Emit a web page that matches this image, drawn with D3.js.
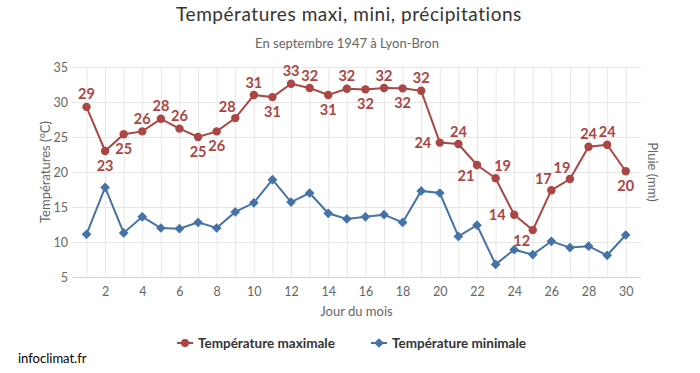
<!DOCTYPE html>
<html>
<head>
<meta charset="utf-8">
<script src="https://cdn.jsdelivr.net/npm/d3@7"></script>
<style>
  body { margin: 0; background: #fff; }
  text { font-family: Lato, "Open Sans", sans-serif; }
</style>
</head>
<body>
<svg id="chart" width="700" height="373"></svg>
<script>
// ---- Data ----
const days = d3.range(1, 31);
const tempMax = [29.3, 23.0, 25.4, 25.8, 27.6, 26.2, 25.0, 25.8, 27.7, 31.0,
                 30.7, 32.6, 32.0, 31.0, 31.9, 31.8, 32.0, 31.95, 31.6, 24.2,
                 24.0, 21.0, 19.1, 13.9, 11.7, 17.4, 19.0, 23.6, 23.9, 20.1];
const tempMin = [11.1, 17.8, 11.3, 13.6, 12.0, 11.9, 12.8, 12.0, 14.3, 15.6,
                 18.9, 15.7, 17.0, 14.1, 13.3, 13.6, 13.9, 12.8, 17.3, 17.0,
                 10.8, 12.4, 6.8, 8.9, 8.2, 10.1, 9.2, 9.4, 8.1, 11.0];
const yTicks = [5, 10, 15, 20, 25, 30, 35];
const xTicks = d3.range(2, 31, 2);
const seriesNames = ["Température maximale", "Température minimale"];

// ---- Layout (label placement per point of the max series) ----
const labelSide = ["N","S","S","N","N","N","S","S","NW","N",
                   "S","N","N","S","N","S","N","S","N","W",
                   "N","SW","NE","W","SW","NW","NW","N","N","S"];
const sideOffset = {
  N: [0, -13], S: [0, 14], W: [-17, 0], NW: [-8, -12],
  SW: [-11, 10], NE: [7, -13]
};

const colMax = "#aa4643", colMin = "#4572a7";
const svg = d3.select("#chart");
const L = 72, R = 641, T = 67, B = 277;

const x = d3.scaleLinear().domain([0.22, 30.82]).range([L, R]);
const y = d3.scaleLinear().domain([5, 35]).range([B, T]);

// Horizontal grid + y labels
const yAxis = svg.append("g").attr("transform", `translate(${L},0)`)
  .call(d3.axisLeft(y).tickValues(yTicks).tickSizeInner(-(R - L)).tickSizeOuter(0).tickPadding(4));
yAxis.select(".domain").remove();
yAxis.selectAll("line").attr("stroke", "#e6e6e6");
yAxis.selectAll("text").attr("fill", "#666").style("font-size", "12.5px").attr("x", -4);

// Vertical grid per day
const xGrid = svg.append("g").attr("transform", `translate(0,${B})`)
  .call(d3.axisBottom(x).tickValues(days).tickSizeInner(-(B - T)).tickSizeOuter(0).tickFormat(""));
xGrid.select(".domain").remove();
xGrid.selectAll("line").attr("stroke", "#e6e6e6");

// X axis labels + line
const xAxis = svg.append("g").attr("transform", `translate(0,${B})`)
  .call(d3.axisBottom(x).tickValues(xTicks).tickSize(0).tickPadding(10));
xAxis.select(".domain").attr("stroke", "#ccd6eb").attr("d", `M${L},0.5H${R}`);
xAxis.selectAll("text").attr("fill", "#666").style("font-size", "12.5px");

// Titles
svg.append("text").attr("x", 349).attr("y", 21).attr("text-anchor", "middle")
  .attr("fill", "#333").style("font-size", "19px").style("letter-spacing", "0.55px")
  .text("Températures maxi, mini, précipitations");
svg.append("text").attr("x", 347).attr("y", 48).attr("text-anchor", "middle")
  .attr("fill", "#666").style("font-size", "13px").text("En septembre 1947 à Lyon-Bron");
svg.append("text").attr("x", (L + R) / 2).attr("y", 316).attr("text-anchor", "middle")
  .attr("fill", "#666").style("font-size", "13px").text("Jour du mois");
svg.append("text").attr("transform", `translate(50,${(T + B) / 2}) rotate(-90)`)
  .attr("text-anchor", "middle").attr("fill", "#666").style("font-size", "13px")
  .text("Températures (°C)");
svg.append("text").attr("transform", `translate(648,${(T + B) / 2}) rotate(90)`)
  .attr("text-anchor", "middle").attr("fill", "#666").style("font-size", "13px")
  .text("Pluie (mm)");

// Lines
const lineGen = d3.line().x((d, i) => x(days[i])).y(d => y(d));
svg.append("path").datum(tempMin).attr("d", lineGen).attr("fill", "none")
  .attr("stroke", colMin).attr("stroke-width", 2);
svg.append("path").datum(tempMax).attr("d", lineGen).attr("fill", "none")
  .attr("stroke", colMax).attr("stroke-width", 2);

// Markers
const diamond = d3.symbol().type(d3.symbolDiamond2).size(60);
svg.append("g").selectAll("path").data(tempMin).join("path")
  .attr("transform", (d, i) => `translate(${x(days[i])},${y(d)})`)
  .attr("d", diamond).attr("fill", colMin);
svg.append("g").selectAll("circle").data(tempMax).join("circle")
  .attr("cx", (d, i) => x(days[i])).attr("cy", d => y(d)).attr("r", 4.2).attr("fill", colMax);

// Data labels
svg.append("g").selectAll("text").data(tempMax).join("text")
  .attr("x", (d, i) => x(days[i]) + sideOffset[labelSide[i]][0])
  .attr("y", (d, i) => y(d) + sideOffset[labelSide[i]][1])
  .attr("text-anchor", "middle").attr("dominant-baseline", "central")
  .attr("fill", colMax).style("font-size", "14.5px").style("font-weight", "bold")
  .text(d => Math.round(d));

// Legend
const legend = [
  { name: seriesNames[0], color: colMax, x0: 177, sym: "circle" },
  { name: seriesNames[1], color: colMin, x0: 371, sym: "diamond" }
];
legend.forEach(it => {
  const g = svg.append("g").attr("transform", `translate(${it.x0},343)`);
  g.append("line").attr("x1", 0).attr("x2", 16).attr("stroke", it.color).attr("stroke-width", 2);
  if (it.sym === "circle") g.append("circle").attr("cx", 8).attr("r", 4).attr("fill", it.color);
  else g.append("path").attr("transform", "translate(8,0)").attr("d", diamond).attr("fill", it.color);
  g.append("text").attr("x", 21).attr("y", 0).attr("dominant-baseline", "central")
    .attr("fill", "#333").style("font-size", "13.5px").style("font-weight", "bold").text(it.name);
});

svg.append("text").attr("x", 18).attr("y", 358).attr("dominant-baseline", "central")
  .attr("fill", "#000").style("font-size", "13px").text("infoclimat.fr");
</script>
</body>
</html>
